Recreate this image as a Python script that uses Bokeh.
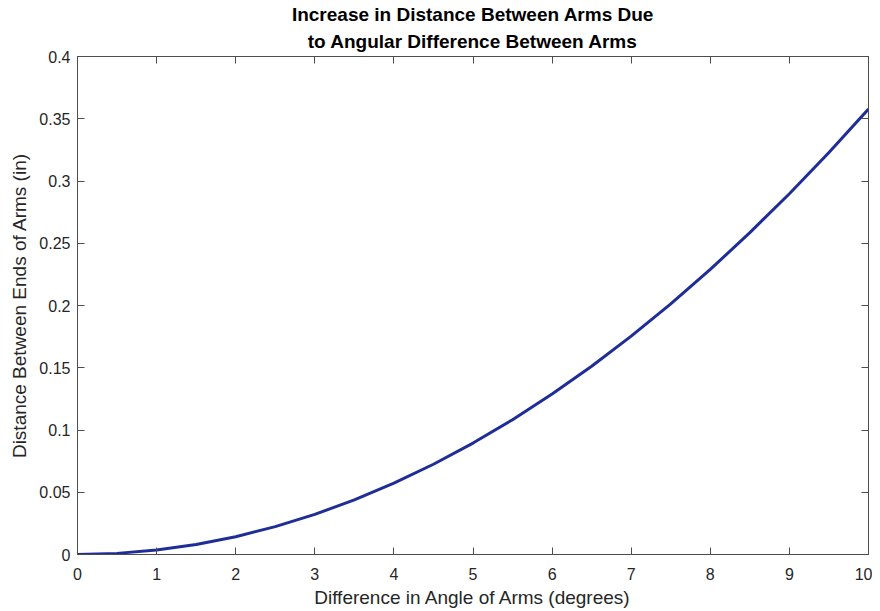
from bokeh.plotting import figure
from bokeh.models import Range1d, FixedTicker, LinearAxis, Title
from bokeh.embed import file_html
from bokeh.resources import INLINE

# Data
angle_deg = [0, 0.5, 1, 1.5, 2, 2.5, 3, 3.5, 4, 4.5, 5, 5.5, 6, 6.5, 7, 7.5, 8, 8.5, 9, 9.5, 10]
distance_in = [0.0, 0.0009, 0.0036, 0.0080, 0.0143, 0.0224, 0.0322, 0.0439, 0.0573, 0.0725,
               0.0895, 0.1083, 0.1289, 0.1512, 0.1754, 0.2013, 0.2290, 0.2585, 0.2898, 0.3229, 0.3578]

x_ticks = [0, 1, 2, 3, 4, 5, 6, 7, 8, 9, 10]
y_ticks = [0, 0.05, 0.1, 0.15, 0.2, 0.25, 0.3, 0.35, 0.4]
y_tick_labels = ["0", "0.05", "0.1", "0.15", "0.2", "0.25", "0.3", "0.35", "0.4"]

title_line1 = "Increase in Distance Between Arms Due"
title_line2 = "to Angular Difference Between Arms"
x_label = "Difference in Angle of Arms (degrees)"
y_label = "Distance Between Ends of Arms (in)"

FONT = "Liberation Sans"
TEXT = "#262626"
AXC = "#4d4d4d"

p = figure(width=872, height=610, output_backend="svg", toolbar_location=None,
           x_range=Range1d(0, 10), y_range=Range1d(0, 0.4), title=None,
           min_border_left=77, min_border_right=4, min_border_top=56, min_border_bottom=56)
p.grid.visible = False
p.outline_line_color = AXC
p.background_fill_color = "white"
p.border_fill_color = "white"

p.line(angle_deg, distance_in, line_color="#1f2d96", line_width=3, line_join="round")

def style(ax, labels=True):
    ax.axis_line_color = AXC
    ax.major_tick_line_color = AXC
    ax.minor_tick_line_color = None
    ax.major_tick_in = 7
    ax.major_tick_out = 0
    ax.major_label_text_font = FONT
    ax.major_label_text_font_size = "16px"
    ax.major_label_text_color = TEXT
    ax.major_label_standoff = 8
    ax.axis_label_text_font = FONT
    ax.axis_label_text_font_size = "19px"
    ax.axis_label_text_font_style = "normal"
    ax.axis_label_text_color = TEXT
    if not labels:
        ax.major_label_text_font_size = "0px"
        ax.major_label_text_color = None
        ax.major_label_standoff = 0

xa = p.xaxis[0]
style(xa)
xa.ticker = FixedTicker(ticks=x_ticks)
xa.axis_label = x_label
xa.major_label_standoff = 13
xa.axis_label_standoff = 4

ya = p.yaxis[0]
style(ya)
ya.ticker = FixedTicker(ticks=y_ticks)
ya.major_label_overrides = {t: l for t, l in zip(y_ticks, y_tick_labels)}
ya.axis_label = y_label
ya.major_label_standoff = 7
ya.axis_label_standoff = 6

top = LinearAxis(ticker=FixedTicker(ticks=x_ticks))
style(top, labels=False)
p.add_layout(top, "above")
right = LinearAxis(ticker=FixedTicker(ticks=y_ticks))
style(right, labels=False)
p.add_layout(right, "right")

for t, so in [(title_line2, 9), (title_line1, 0)]:
    p.add_layout(Title(text=t, align="center", text_font=FONT, text_font_size="19px",
                       text_font_style="bold", text_color="black", standoff=so), "above")

open("out.html", "w").write(file_html(p, INLINE))
